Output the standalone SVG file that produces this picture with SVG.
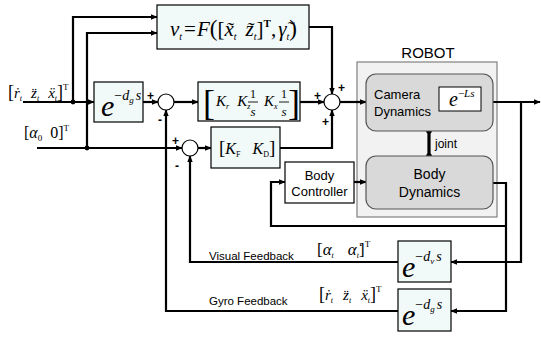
<svg xmlns="http://www.w3.org/2000/svg" width="541" height="338" viewBox="0 0 541 338">
  <defs>
    <marker id="arr" viewBox="0 0 10 10" refX="9" refY="5" markerWidth="7" markerHeight="7" markerUnits="userSpaceOnUse" orient="auto">
      <path d="M0,1 L10,5 L0,9 Z" fill="#000"/>
    </marker>
    <style>
      .blk { fill: #f2f9f9; stroke: #000; stroke-width: 1.2; }
      .sum { fill: #fff; stroke: #000; stroke-width: 1.2; }
      .wire { fill: none; stroke: #000; stroke-width: 2.2; }
      .arrow { marker-end: url(#arr); }
      .dot { fill: #000; }
      .math { font-family: "Liberation Serif", "DejaVu Serif", serif; font-style: italic; fill: #000; }
      .up { font-family: "Liberation Serif", "DejaVu Serif", serif; font-style: normal; fill: #000; }
      .lbl { font-family: "Liberation Sans", Arial, sans-serif; fill: #000; }
      .sign { font-family: "Liberation Sans", Arial, sans-serif; font-size: 12px; font-weight: bold; fill: #000; }
      .dyn { fill: #d9d9d9; stroke: #555; stroke-width: 1.2; }
    </style>
  </defs>

  <!-- robot enclosure -->
  <g id="robot">
    <rect x="357" y="62" width="140" height="155" fill="#f2f2f2" stroke="#808080" stroke-width="1.2"/>
    <text class="lbl" x="428" y="58" font-size="15" text-anchor="middle">ROBOT</text>
  </g>

  <!-- connectors -->
  <g id="connectors">
    <path class="wire arrow" d="M23,102 H94"/>
    <path class="wire arrow" d="M73,102 V17 H157"/>
    <path class="wire arrow" d="M87,148 V33 H157"/>
    <path class="wire arrow" d="M37,148 H182"/>
    <path class="wire arrow" d="M143,102 H158"/>
    <path class="wire arrow" d="M174,102 H198"/>
    <path class="wire arrow" d="M300,102 H324"/>
    <path class="wire arrow" d="M309,27 H332 V94"/>
    <path class="wire arrow" d="M280,148 H332 V110"/>
    <path class="wire arrow" d="M340,102 H366"/>
    <path class="wire arrow" d="M198,148 H211"/>
    <path class="wire arrow" d="M481,102 H540"/>
    <path class="wire arrow" d="M521,102 V262 H451"/>
    <path class="wire arrow" d="M398,262 H190 V156"/>
    <path class="wire arrow" d="M493,183 H506 V311 H451"/>
    <path class="wire arrow" d="M506,226 H271 V182 H285"/>
    <path class="wire arrow" d="M398,311 H166 V110"/>
    <path class="wire arrow" d="M354,182 H366"/>
    <path fill="none" stroke="#000" stroke-width="3.2" d="M429,131 V156"/>
    <circle class="dot" cx="429" cy="131" r="2.8"/>
    <circle class="dot" cx="429" cy="156" r="2.8"/>
    <circle class="dot" cx="73" cy="102" r="2.4"/>
    <circle class="dot" cx="87" cy="148" r="2.4"/>
    <text class="lbl" x="435" y="148" font-size="12">joint</text>
  </g>

  <!-- input labels -->
  <g id="inputs">
    <text class="math" x="8" y="98" font-size="15"><tspan class="up" font-size="18">[</tspan>ṙ<tspan font-size="8" dy="3">t</tspan><tspan dx="9" dy="-3">z̈</tspan><tspan font-size="8" dy="3">t</tspan><tspan dx="9" dy="-3">ẍ</tspan><tspan font-size="8" dy="3">t</tspan><tspan class="up" font-size="18" dy="-3">]</tspan><tspan class="up" font-size="9" dy="-8">T</tspan></text>
    <text class="math" x="24" y="138" font-size="16"><tspan class="up">[</tspan>α<tspan class="up" font-size="9" dy="3">0</tspan><tspan class="up" dx="8" dy="-3">0]</tspan><tspan class="up" font-size="9" dy="-7">T</tspan></text>
  </g>

  <!-- nonlinear speed law -->
  <g id="speed-law">
    <rect class="blk" x="157" y="5" width="152" height="44"/>
    <text class="math" x="170" y="36" font-size="21">v<tspan font-size="10" dy="4">t</tspan><tspan class="up" dy="-4" dx="2">=</tspan><tspan dx="1">F</tspan><tspan class="up" font-size="23">(</tspan><tspan class="up">[</tspan>x̃<tspan font-size="10" dy="4">t</tspan><tspan dx="9" dy="-4">z̃</tspan><tspan font-size="10" dy="4">t</tspan><tspan class="up" dy="-4">]</tspan><tspan class="up" font-size="11" font-weight="bold" dy="-9">T</tspan><tspan class="up" dy="9">,</tspan><tspan dx="2">γ̃</tspan><tspan font-size="10" dy="4">t</tspan><tspan class="up" font-size="23" dy="-4">)</tspan></text>
  </g>

  <!-- gyro delay, forward path -->
  <g id="delay-fwd">
    <rect class="blk" x="94" y="82" width="49" height="40"/>
    <text class="math" x="101" y="116" font-size="30">e<tspan class="up" font-size="14" dy="-16">−</tspan><tspan font-size="14">d</tspan><tspan font-size="9" dy="3">g</tspan><tspan font-size="14" dx="2" dy="-3">s</tspan></text>
  </g>

  <!-- summing junctions -->
  <g id="sum1">
    <circle class="sum" cx="166" cy="102" r="8"/>
    <text class="sign" x="147" y="100">+</text>
    <text class="sign" x="158" y="124">-</text>
  </g>
  <g id="sum2">
    <circle class="sum" cx="332" cy="102" r="8"/>
    <text class="sign" x="314" y="100">+</text>
    <text class="sign" x="338" y="92">+</text>
    <text class="sign" x="322" y="126">+</text>
  </g>
  <g id="sum3">
    <circle class="sum" cx="190" cy="148" r="8"/>
    <text class="sign" x="172" y="145">+</text>
    <text class="sign" x="175" y="170">-</text>
  </g>

  <!-- gain matrix -->
  <g id="gain">
    <rect class="blk" x="198" y="82" width="102" height="39"/>
    <text class="up" x="203" y="115" font-size="36">[</text>
    <text class="math" x="216" y="106" font-size="15">K<tspan font-size="8" dy="3">r</tspan><tspan dx="8" dy="-3">K</tspan><tspan font-size="8" dy="3">z</tspan></text>
    <text class="up" x="253" y="98" font-size="12" text-anchor="middle">1</text>
    <line x1="248" y1="102" x2="258" y2="102" stroke="#000" stroke-width="0.9"/>
    <text class="math" x="253" y="116" font-size="13" text-anchor="middle">s</text>
    <text class="math" x="264" y="106" font-size="15">K<tspan font-size="8" dy="3">x</tspan></text>
    <text class="up" x="284" y="98" font-size="12" text-anchor="middle">1</text>
    <line x1="279" y1="102" x2="289" y2="102" stroke="#000" stroke-width="0.9"/>
    <text class="math" x="284" y="116" font-size="13" text-anchor="middle">s</text>
    <text class="up" x="288" y="115" font-size="36">]</text>
  </g>

  <!-- attitude gain -->
  <g id="attitude-gain">
    <rect class="blk" x="211" y="127" width="69" height="41"/>
    <text class="math" x="219" y="154" font-size="16"><tspan class="up" font-size="19">[</tspan>K<tspan class="up" font-size="8" dy="3">F</tspan><tspan dx="12" dy="-3">K</tspan><tspan class="up" font-size="8" dy="3">D</tspan><tspan class="up" font-size="19" dy="-3">]</tspan></text>
  </g>

  <!-- body controller -->
  <g id="body-controller">
    <rect x="285" y="162" width="69" height="41" fill="#fff" stroke="#000" stroke-width="1.2"/>
    <text class="lbl" x="319.5" y="180" font-size="13" text-anchor="middle">Body</text>
    <text class="lbl" x="319.5" y="196" font-size="13" text-anchor="middle">Controller</text>
  </g>

  <!-- camera dynamics with image delay -->
  <g id="camera-dynamics">
    <rect class="dyn" x="366" y="74" width="127" height="57" rx="10"/>
    <text class="lbl" x="374" y="99" font-size="13">Camera</text>
    <text class="lbl" x="374" y="116" font-size="13">Dynamics</text>
    <rect x="439" y="87" width="42" height="24" fill="#fff" stroke="#000" stroke-width="1"/>
    <text class="math" x="449" y="106" font-size="20">e<tspan class="up" font-size="11" dy="-9">−</tspan><tspan font-size="11">Ls</tspan></text>
  </g>

  <!-- body dynamics -->
  <g id="body-dynamics">
    <rect class="dyn" x="366" y="156" width="127" height="53" rx="10"/>
    <text class="lbl" x="429.5" y="179" font-size="14" text-anchor="middle">Body</text>
    <text class="lbl" x="429.5" y="197" font-size="14" text-anchor="middle">Dynamics</text>
  </g>

  <!-- visual feedback delay -->
  <g id="delay-visual">
    <rect class="blk" x="398" y="241" width="53" height="41"/>
    <text class="math" x="402" y="277" font-size="30">e<tspan class="up" font-size="14" dy="-16">−</tspan><tspan font-size="14">d</tspan><tspan font-size="9" dy="3">v</tspan><tspan font-size="14" dx="2" dy="-3">s</tspan></text>
    <text class="lbl" x="209" y="260" font-size="11.5">Visual Feedback</text>
    <text class="math" x="317" y="255" font-size="17"><tspan class="up">[</tspan>α<tspan font-size="8" dy="3">t</tspan><tspan dx="14" dy="-3">α̇</tspan><tspan font-size="8" dy="3">t</tspan><tspan class="up" dy="-3">]</tspan><tspan class="up" font-size="9" dy="-8">T</tspan></text>
  </g>

  <!-- gyro feedback delay -->
  <g id="delay-gyro">
    <rect class="blk" x="398" y="289" width="53" height="42"/>
    <text class="math" x="402" y="325" font-size="30">e<tspan class="up" font-size="14" dy="-16">−</tspan><tspan font-size="14">d</tspan><tspan font-size="9" dy="3">g</tspan><tspan font-size="14" dx="2" dy="-3">s</tspan></text>
    <text class="lbl" x="209" y="305" font-size="11.5">Gyro Feedback</text>
    <text class="math" x="319" y="300" font-size="15"><tspan class="up" font-size="18">[</tspan>ṙ<tspan font-size="8" dy="3">t</tspan><tspan dx="10" dy="-3">z̈</tspan><tspan font-size="8" dy="3">t</tspan><tspan dx="10" dy="-3">ẍ</tspan><tspan font-size="8" dy="3">t</tspan><tspan class="up" font-size="18" dy="-3">]</tspan><tspan class="up" font-size="9" dy="-8">T</tspan></text>
  </g>
</svg>
